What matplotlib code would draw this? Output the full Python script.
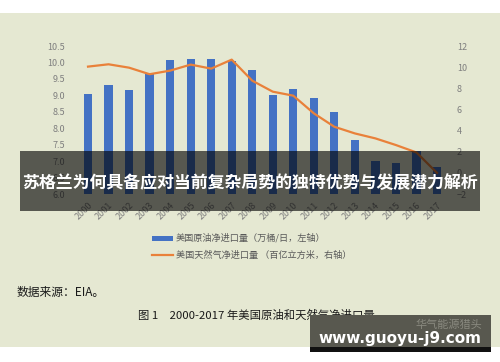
import matplotlib
matplotlib.use("Agg")
import matplotlib.pyplot as plt
from matplotlib.patches import Rectangle
from matplotlib.lines import Line2D
from matplotlib.ticker import FormatStrFormatter

plt.rcParams['font.family'] = ['Noto Sans CJK SC', 'DejaVu Sans']

years = ['2000', '2001', '2002', '2003', '2004', '2005', '2006', '2007', '2008',
         '2009', '2010', '2011', '2012', '2013', '2014', '2015', '2016', '2017']
oil = [9.04, 9.32, 9.16, 9.67, 10.08, 10.11, 10.11, 10.05, 9.77,
       9.00, 9.20, 8.91, 8.50, 7.63, 7.00, 6.93, 7.31, 6.83]
gas = [10.05, 10.27, 9.95, 9.33, 9.67, 10.24, 9.86, 10.71, 8.72,
       7.68, 7.30, 5.63, 4.36, 3.73, 3.26, 2.63, 1.93, 0.0]
left_ticks = [6.0, 6.5, 7.0, 7.5, 8.0, 8.5, 9.0, 9.5, 10.0, 10.5]
right_ticks = [-2, 0, 2, 4, 6, 8, 10, 12]
legend_labels = ['美国原油净进口量（万桶/日，左轴）', '美国天然气净进口量 （百亿立方米，右轴）']
banner_text = '苏格兰为何具备应对当前复杂局势的独特优势与发展潜力解析'
source_text = '数据来源：EIA。'
caption_text = '图 1　2000-2017 年美国原油和天然气净进口量'
watermark_text = 'www.guoyu-j9.com'
faint_text = '华气能源猎头'

W, H = 500, 362
fig = plt.figure(figsize=(W / 100, H / 100), dpi=100)
fig.patch.set_facecolor('white')

def fx(px):
    return px / W

def fy(py):
    return 1 - py / H

bg = '#e5e8d2'
fig.add_artist(Rectangle((0, fy(347)), 1, fy(13) - fy(347), transform=fig.transFigure,
                         facecolor=bg, edgecolor='none', zorder=-10))

left, right, top, bottom = 77.75, 447.25, 46, 194
ax = fig.add_axes([fx(left), fy(bottom), fx(right - left), fy(top) - fy(bottom)])
ax.set_facecolor('none')
x = list(range(len(years)))
bars = ax.bar(x, oil, width=0.4, color='#4472c4', zorder=2)
ax.set_xlim(-0.5, len(years) - 0.5)
ax.set_ylim(6.0, 10.5)
ax.set_yticks(left_ticks)
ax.yaxis.set_major_formatter(FormatStrFormatter('%.1f'))
ax.set_xticks(x)
ax.set_xticklabels(years, rotation=45, ha='right', rotation_mode='anchor')
ax.tick_params(axis='both', length=0, labelsize=6.5, labelcolor='#7f7f7f')
ax.tick_params(axis='y', pad=9)
ax.tick_params(axis='x', pad=5)
for s in ax.spines.values():
    s.set_visible(False)

ax2 = ax.twinx()
ax2.plot(x, gas, color='#e9813a', lw=1.6, zorder=3)
ax2.set_ylim(-2, 12)
ax2.set_yticks(right_ticks)
ax2.tick_params(axis='y', length=0, labelsize=6.5, labelcolor='#7f7f7f', pad=7)
for s in ax2.spines.values():
    s.set_visible(False)

# legend
fig.add_artist(Rectangle((fx(152), fy(240.5)), fx(21), fy(235.5) - fy(240.5),
                         transform=fig.transFigure, facecolor='#4472c4', edgecolor='none'))
fig.add_artist(Line2D([fx(152), fx(173)], [fy(255), fy(255)], transform=fig.transFigure,
                      color='#e9813a', lw=1.6))
fig.text(fx(176), fy(238), legend_labels[0], fontsize=6.6, color='#595959', va='center', ha='left')
fig.text(fx(176), fy(255), legend_labels[1], fontsize=6.6, color='#595959', va='center', ha='left')

# bottom texts
fig.text(fx(17), fy(292), source_text, fontsize=8.5, color='#1a1a1a', va='center', ha='left')
fig.text(fx(256), fy(315), caption_text, fontsize=8.2, color='#1a1a1a', va='center', ha='center')

# banner overlay
fig.add_artist(Rectangle((fx(20), fy(211)), fx(460), fy(151) - fy(211), transform=fig.transFigure,
                         facecolor='black', alpha=0.62, edgecolor='none', zorder=20))
fig.text(fx(250), fy(183), banner_text, fontsize=12.2, fontweight='bold', color='white',
         va='center', ha='center', zorder=21)

# watermark box
fig.add_artist(Rectangle((fx(310), fy(347)), fx(181), fy(315) - fy(347), transform=fig.transFigure,
                         facecolor='#58584f', edgecolor='none', zorder=20))
fig.add_artist(Rectangle((fx(310), fy(352)), fx(181), fy(347) - fy(352), transform=fig.transFigure,
                         facecolor='#111111', edgecolor='none', zorder=20))
fig.text(fx(449), fy(325), faint_text, fontsize=8, color='#8a8a80', va='center', ha='center', zorder=21)
fig.text(fx(400), fy(338), watermark_text, fontsize=11, fontweight='bold', color='white',
         family=['DejaVu Sans'], va='center', ha='center', zorder=22)

fig.savefig('out.png', dpi=100, facecolor='white')
